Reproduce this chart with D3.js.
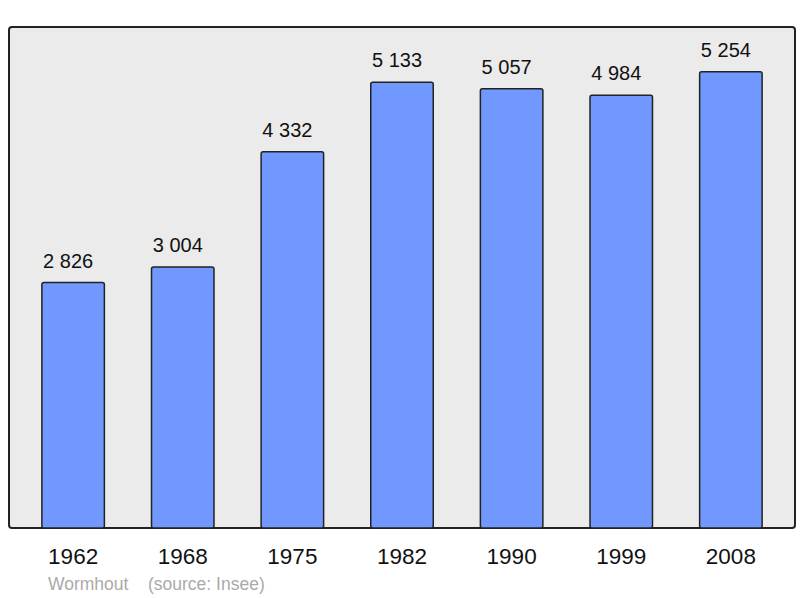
<!DOCTYPE html>
<html>
<head>
<meta charset="utf-8">
<script src="https://cdn.jsdelivr.net/npm/d3@7"></script>
<style>
  body { margin: 0; background: #fff; }
  svg { display: block; font-family: "Liberation Sans", Arial, sans-serif; }
</style>
</head>
<body>
<svg width="800" height="598"></svg>
<script>
// population by census year
const years = ["1962", "1968", "1975", "1982", "1990", "1999", "2008"];
const population = [2826, 3004, 4332, 5133, 5057, 4984, 5254];
const townName = "Wormhout";
const sourceText = "(source: Insee)";

const svg = d3.select("svg");
const frame = {left: 9, top: 27, right: 795, bottom: 528};

// plot background
svg.append("rect")
  .attr("x", frame.left)
  .attr("y", frame.top)
  .attr("width", frame.right - frame.left)
  .attr("height", frame.bottom - frame.top)
  .attr("rx", 3)
  .attr("fill", "#ebebeb")
  .attr("stroke", "#222")
  .attr("stroke-width", 2);

const x = d3.scaleBand()
  .domain(years)
  .range([frame.left, frame.right])
  .paddingInner(0.43)
  .paddingOuter(0.3);

const y = d3.scaleLinear()
  .domain([0, d3.max(population) * 1.098])
  .range([frame.bottom, frame.top]);

const data = years.map((yr, i) => ({year: yr, value: population[i]}));
const fmt = v => d3.format(",")(v).replace(/,/g, " ");

svg.append("g").selectAll("rect")
  .data(data)
  .enter()
  .append("rect")
  .attr("x", d => x(d.year))
  .attr("y", d => y(d.value))
  .attr("width", x.bandwidth())
  .attr("height", d => frame.bottom - y(d.value))
  .attr("rx", 2)
  .attr("fill", "#7098ff")
  .attr("stroke", "#222")
  .attr("stroke-width", 1.5);

// value labels sit a bit left of the bar centre, like the original
svg.append("g").selectAll("text")
  .data(data)
  .enter()
  .append("text")
  .attr("x", d => x(d.year) + x.bandwidth() / 2 - 5)
  .attr("y", d => y(d.value) - 15)
  .attr("text-anchor", "middle")
  .attr("font-size", 20)
  .attr("fill", "#111")
  .text(d => fmt(d.value));

// bottom axis, labels only
const xAxis = d3.axisBottom(x).tickSize(0).tickPadding(0);
const axisG = svg.append("g")
  .attr("transform", "translate(0," + frame.bottom + ")")
  .call(xAxis);
axisG.select(".domain").remove();
axisG.selectAll("text")
  .attr("dy", 0)
  .attr("y", 36)
  .attr("font-size", 22.5)
  .attr("font-family", "Liberation Sans, Arial, sans-serif")
  .attr("fill", "#111");

svg.append("text")
  .attr("x", 48)
  .attr("y", 590)
  .attr("font-size", 17.5)
  .attr("fill", "#aaa")
  .text(townName);
svg.append("text")
  .attr("x", 148)
  .attr("y", 590)
  .attr("font-size", 17.5)
  .attr("fill", "#aaa")
  .text(sourceText);
</script>
</body>
</html>
